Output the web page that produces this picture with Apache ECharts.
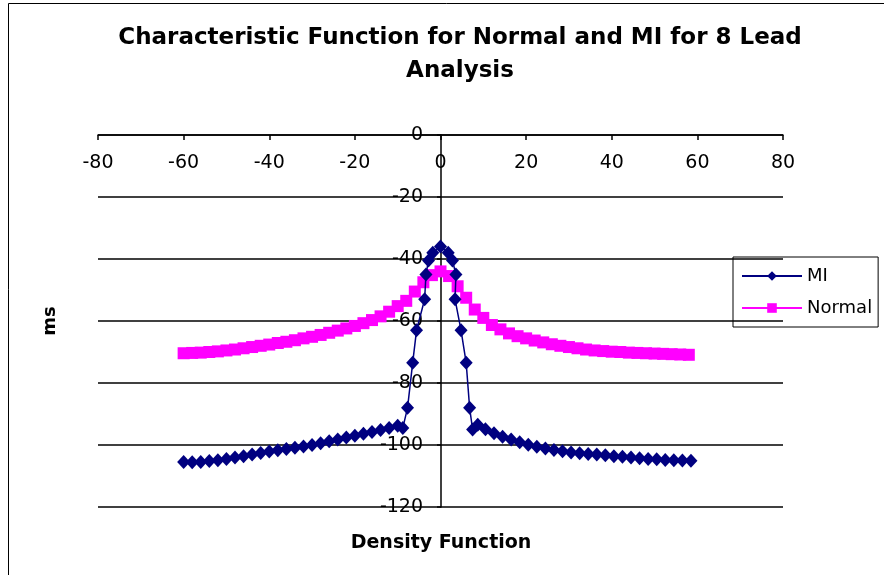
<!DOCTYPE html>
<html>
<head>
<meta charset="utf-8">
<script src="https://cdn.jsdelivr.net/npm/echarts@6/dist/echarts.min.js"></script>
<style>
    html, body { margin: 0; padding: 0; background: #fff; }
    #chart { width: 884px; height: 575px; }
</style>
</head>
<body>
<div id="chart"></div>
<script>
// values
var legendNames = ['MI', 'Normal'];

var miX = [-60, -58, -56, -54, -52, -50, -48, -46, -44, -42, -40, -38, -36, -34, -32, -30, -28, -26, -24, -22, -20, -18, -16, -14, -12, -10, -8.8,
    -7.7, -6.5, -5.6, -3.7, -3.4, -2.8, -1.8, 0, 1.8, 2.8, 3.6, 3.4, 4.8, 6, 6.8, 7.5,
    8.7, 10.5, 12.5, 14.5, 16.5, 18.5, 20.5, 22.5, 24.5, 26.5, 28.5, 30.5, 32.5, 34.5, 36.5, 38.5, 40.5, 42.5, 44.5, 46.5, 48.5, 50.5, 52.5, 54.5, 56.5, 58.5];
var miY = [-105.5, -105.6, -105.5, -105.2, -104.9, -104.5, -104.0, -103.6, -103.1, -102.6, -102.1, -101.7, -101.3, -100.9, -100.5, -100.0, -99.4, -98.8, -98.2, -97.6, -97.0, -96.4, -95.8, -95.2, -94.5, -93.8, -94.5,
    -88, -73.5, -63, -53, -45, -40.5, -38, -36, -38, -40.5, -45, -53, -63, -73.5, -88, -95,
    -93.5, -94.9, -96.2, -97.3, -98.2, -99.1, -99.9, -100.6, -101.1, -101.6, -102.0, -102.4, -102.7, -102.9, -103.1, -103.3, -103.6, -103.8, -104.0, -104.3, -104.5, -104.6, -104.8, -104.9, -105.0, -105.1];

var normalX = [-60, -58, -56, -54, -52, -50, -48, -46, -44, -42, -40, -38, -36, -34, -32, -30, -28, -26, -24, -22, -20, -18, -16, -14, -12, -10, -8, -6, -4, -2,
    0, 2, 4, 6, 8, 10, 12, 14, 16, 18, 20, 22, 24, 26, 28, 30, 32, 34, 36, 38, 40, 42, 44, 46, 48, 50, 52, 54, 56, 58];
var normalY = [-70.4, -70.3, -70.2, -70.0, -69.8, -69.5, -69.2, -68.8, -68.4, -68.0, -67.6, -67.1, -66.7, -66.2, -65.6, -65.1, -64.5, -63.8, -63.1, -62.4, -61.6, -60.7, -59.7, -58.5, -57.0, -55.2, -53.5, -50.5, -47.5, -45.2,
    -44, -45.5, -48.8, -52.5, -56.3, -59.0, -61.3, -62.7, -64.0, -64.9, -65.6, -66.3, -66.9, -67.5, -68.0, -68.4, -68.8, -69.2, -69.5, -69.7, -69.9, -70.0, -70.2, -70.3, -70.4, -70.5, -70.6, -70.7, -70.8, -70.9];

function pairs(xs, ys) {
    var out = [];
    for (var i = 0; i < xs.length; i++) {
        out.push([xs[i], ys[i]]);
    }
    return out;
}

var font = 'DejaVu Sans, Liberation Sans, Arial, sans-serif';
var chart = echarts.init(document.getElementById('chart'));

var option = {
    animation: false,
    backgroundColor: '#fff',
    textStyle: {fontFamily: font, color: '#000'},
    title: {
        text: 'Characteristic Function for Normal and MI for 8 Lead\nAnalysis',
        left: 455,
        top: 17,
        textAlign: 'center',
        textStyle: {fontSize: 23, fontWeight: 'bold', lineHeight: 33, fontFamily: font, color: '#000'}
    },
    legend: {
        orient: 'vertical',
        left: 733,
        top: 257,
        data: legendNames,
        itemWidth: 60,
        itemHeight: 12,
        itemGap: 14,
        padding: [10, 6, 10, 8],
        borderColor: '#000',
        borderWidth: 1,
        textStyle: {fontSize: 18, fontFamily: font, color: '#000'}
    },
    grid: {left: 98, right: 101, top: 135, bottom: 68},
    xAxis: {
        type: 'value',
        min: -80,
        max: 80,
        interval: 20,
        position: 'top',
        axisLine: {onZero: false, lineStyle: {color: '#000', width: 1.5}},
        axisTick: {inside: true, length: 5, lineStyle: {color: '#000', width: 1.5}},
        axisLabel: {inside: true, margin: 19, fontSize: 19, color: '#000', fontFamily: font},
        splitLine: {show: false}
    },
    yAxis: {
        type: 'value',
        min: -120,
        max: 0,
        interval: 20,
        position: 'left',
        offset: -343,
        axisLine: {show: true, onZero: false, lineStyle: {color: '#000', width: 1.5}},
        axisTick: {show: true, length: 4, lineStyle: {color: '#000', width: 1.5}},
        axisLabel: {margin: 18, fontSize: 19, color: '#000', fontFamily: font},
        splitLine: {show: true, lineStyle: {color: '#000', width: 1.5}}
    },
    graphic: [
        {
            type: 'rect',
            shape: {x: 8.5, y: 3.5, width: 900, height: 600},
            style: {fill: null, stroke: '#000', lineWidth: 1},
            silent: true,
            z: -1
        },
        {
            type: 'text',
            x: 50,
            y: 321,
            rotation: Math.PI / 2,
            style: {text: 'ms', font: 'bold 18px ' + font, fill: '#000', textAlign: 'center', textVerticalAlign: 'middle'}
        },
        {
            type: 'text',
            x: 441,
            y: 543,
            style: {text: 'Density Function', font: 'bold 19px ' + font, fill: '#000', textAlign: 'center', textVerticalAlign: 'middle'}
        }
    ],
    series: [
        {
            name: 'MI',
            type: 'line',
            data: pairs(miX, miY),
            symbol: 'diamond',
            symbolSize: [13, 14],
            showAllSymbol: true,
            color: '#000080',
            lineStyle: {color: '#000080', width: 1.5},
            itemStyle: {color: '#000080'},
            z: 3
        },
        {
            name: 'Normal',
            type: 'line',
            data: pairs(normalX, normalY),
            symbol: 'rect',
            symbolSize: 12,
            showAllSymbol: true,
            color: '#ff00ff',
            lineStyle: {color: '#ff00ff', width: 2},
            itemStyle: {color: '#ff00ff'},
            z: 2
        }
    ]
};

chart.setOption(option);
</script>
</body>
</html>
